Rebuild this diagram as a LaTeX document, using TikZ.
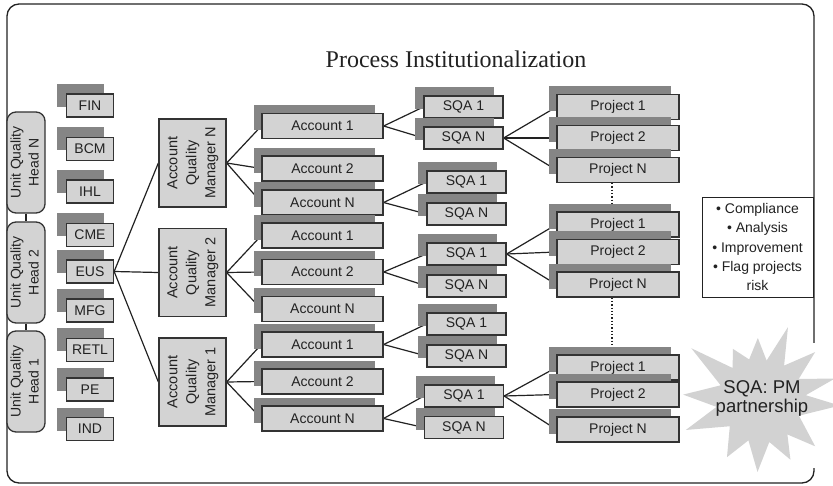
\documentclass[tikz,border=0pt]{standalone}
\usepackage{fontspec}
\setmainfont{Liberation Sans}
\newfontfamily\titlefont{Liberation Serif}
\usetikzlibrary{shadows}
\definecolor{boxfill}{HTML}{D3D3D3}
\definecolor{boxline}{HTML}{333333}
\definecolor{shade}{HTML}{858585}
\definecolor{ink}{HTML}{222222}
\definecolor{burst}{HTML}{D2D2D2}
\pgfdeclarelayer{bg}
\pgfdeclarelayer{lines}
\pgfsetlayers{bg,lines,main}
% vertical multi-line label
\newcommand\vlabel[1]{\rotatebox{90}{\begin{tabular}{@{}c@{}}#1\end{tabular}}}
\begin{document}
\begin{tikzpicture}[x=1pt,y=-1pt,
  box/.style={draw=boxline, fill=boxfill, line width=1.3pt, inner sep=0pt,
    text=ink, font=\fontsize{14}{17}\selectfont},
  uqh/.style={box, rounded corners=9pt, minimum width=38pt, minimum height=101pt,
    font=\fontsize{14}{18}\selectfont},
  aqm/.style={box, minimum width=67pt, minimum height=88pt,
    font=\fontsize{14.5}{19}\selectfont},
  tagbox/.style={box, minimum width=47pt, minimum height=23pt,
    drop shadow={shadow xshift=-10pt, shadow yshift=10pt, fill=shade, opacity=1}},
  accbox/.style={box, minimum width=121pt, minimum height=25pt,
    drop shadow={shadow xshift=-8pt, shadow yshift=8pt, fill=shade, opacity=1}},
  sqabox/.style={box, minimum width=79pt, minimum height=22pt,
    drop shadow={shadow xshift=-9pt, shadow yshift=9pt, fill=shade, opacity=1}},
  projbox/.style={box, minimum width=122pt, minimum height=25pt,
    drop shadow={shadow xshift=-8pt, shadow yshift=8pt, fill=shade, opacity=1}},
  conn/.style={draw=ink, line width=1.2pt},
  dotline/.style={draw=ink, line width=1.3pt, dotted},
]
\useasboundingbox (0,0) rectangle (833,486);

% page and outer frame (open where the burst sits)
\begin{pgfonlayer}{bg}
  \fill[white] (0,0) rectangle (833,486);
  \draw[ink, line width=1.3pt, rounded corners=12pt]
    (814,343) -- (814,4) -- (7,4) -- (7,483) -- (814,483) -- (814,468);
\end{pgfonlayer}

\node[font=\titlefont\fontsize{24}{28}\selectfont, text=ink, anchor=base]
  (title) at (456,68) {Process Institutionalization};

% unit quality heads
\node[uqh] (uqhN) at (26,162.5) {\vlabel{Unit Quality\\Head N}};
\node[uqh] (uqh2) at (26,272.5) {\vlabel{Unit Quality\\Head 2}};
\node[uqh] (uqh1) at (26,381.5) {\vlabel{Unit Quality\\Head 1}};

% units
\foreach \n/\t/\y in {fin/FIN/105.5, bcm/BCM/149, ihl/IHL/191.5, cme/CME/235,
  eus/EUS/271.5, mfg/MFG/310.5, retl/RETL/350, pe/PE/389.5, ind/IND/429}
  \node[tagbox] (\n) at (90,\y) {\t};

% account quality managers
\node[aqm] (aqmN) at (192.5,163) {\vlabel{Account\\Quality\\Manager N}};
\node[aqm] (aqm2) at (192.5,272.5) {\vlabel{Account\\Quality\\Manager 2}};
\node[aqm] (aqm1) at (192.5,382) {\vlabel{Account\\Quality\\Manager 1}};

% accounts
\foreach \n/\t/\y in {a1/Account 1/126, a2/Account 2/168.5, a3/Account N/202.5,
  a4/Account 1/235.5, a5/Account 2/272, a6/Account N/309,
  a7/Account 1/344.5, a8/Account 2/381.5, a9/Account N/418.5}
  \node[accbox] (\n) at (322.5,\y) {\t};

% software quality analysts
\foreach \n/\t/\x/\y in {s1/SQA 1/463.5/107, s2/SQA N/463.5/138,
  s3/SQA 1/466.5/182, s4/SQA N/466.5/214,
  s5/SQA 1/466.5/254, s6/SQA N/466.5/286,
  s7/SQA 1/466.5/324, s8/SQA N/466.5/356,
  s9/SQA 1/464/396, s10/SQA N/464/427.5}
  \node[sqabox] (\n) at (\x,\y) {\t};

% projects
\foreach \n/\t/\y in {p1/Project 1/107, p2/Project 2/138, p3/Project N/170,
  p4/Project 1/224.5, p5/Project 2/252, p6/Project N/284.5,
  p7/Project 1/367.5, p8/Project 2/394.5, p9/Project N/429.5}
  \node[projbox] (\n) at (618,\y) {\t};

% connectors
\begin{pgfonlayer}{lines}
  \draw[conn] (uqhN) -- (uqh2);
  \draw[conn] (uqh2) -- (uqh1);
  \foreach \m in {aqmN,aqm2,aqm1} \draw[conn] (eus.east) -- (\m.west);
  \foreach \a in {a1,a2,a3} \draw[conn] (aqmN.east) -- (\a.west);
  \foreach \a in {a4,a5,a6} \draw[conn] (aqm2.east) -- (\a.west);
  \foreach \a in {a7,a8,a9} \draw[conn] (aqm1.east) -- (\a.west);
  \draw[conn] (a1.east) -- (s1.west);  \draw[conn] (a1.east) -- (s2.west);
  \draw[conn] (a3.east) -- (s3.west);  \draw[conn] (a3.east) -- (s4.west);
  \draw[conn] (a5.east) -- (s5.west);  \draw[conn] (a5.east) -- (s6.west);
  \draw[conn] (a7.east) -- (s7.west);  \draw[conn] (a7.east) -- (s8.west);
  \draw[conn] (a9.east) -- (s9.west);  \draw[conn] (a9.east) -- (s10.west);
  \foreach \p in {p1,p2,p3} \draw[conn] (s2.east) -- (\p.west);
  \foreach \p in {p4,p5,p6} \draw[conn] (s5.east) -- (\p.west);
  \foreach \p in {p7,p8,p9} \draw[conn] (s9.east) -- (\p.west);
  \draw[dotline] ([xshift=-6pt]p3.south) -- ([xshift=-6pt]p4.north);
  \draw[dotline] ([xshift=-6pt]p6.south) -- ([xshift=-6pt]p7.north);
\end{pgfonlayer}

% activities
\node[draw=ink, fill=white, line width=0.9pt, inner sep=0pt, text=ink,
  minimum width=111pt, minimum height=100pt, align=center,
  font=\fontsize{14}{19.25}\selectfont]
  (tasks) at (757.5,247) {• Compliance\\• Analysis\\• Improvement\\• Flag projects\\risk};

% partnership burst
\fill[burst, shift={(760,400)}]
  (4:80) -- (22:42) -- (40:72) -- (51.5:44) -- (63:67) -- (77.5:43)
  -- (92:72) -- (106:42) -- (120:66) -- (139:40) -- (158:80) -- (171:44)
  -- (184:77) -- (200.5:42) -- (217:86) -- (229.5:42) -- (242:58)
  -- (255:42) -- (268:62) -- (279.5:40) -- (291:78) -- (305:42)
  -- (319:73) -- (331.5:44) -- (344:78) -- (354:46) -- cycle;
\node[text=ink, align=center, font=\fontsize{18.5}{19}\selectfont]
  (partner) at (762,398) {SQA: PM\\partnership};
\end{tikzpicture}
\end{document}
